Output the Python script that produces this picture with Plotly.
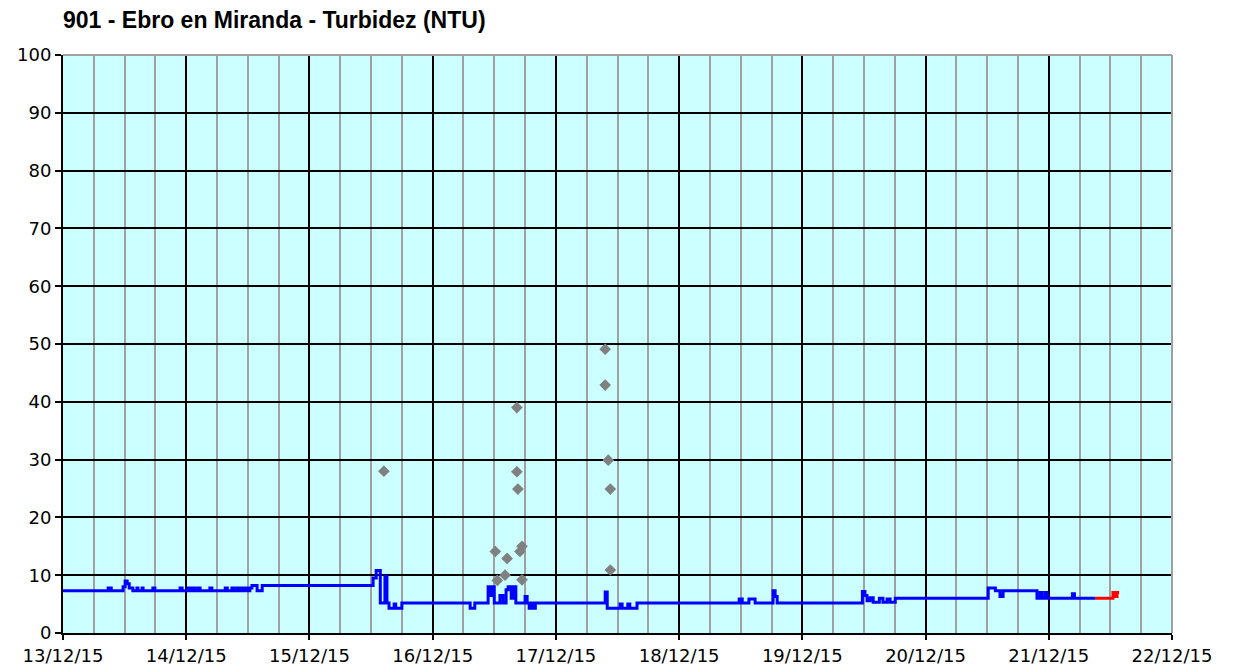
import pandas as pd
import plotly.graph_objects as go

START = pd.Timestamp("2015-12-13 00:00")

# blue series: hours since 13/12/15 00:00 and turbidity (NTU), step changes
blue_hours = [0, 8.8, 9.4, 11.7, 12.1, 12.5, 12.9, 13.1, 13.6, 14.4, 14.6, 15.4, 15.6,
              17.5, 17.9, 22.8, 23.2, 24.4, 24.8, 25.3, 25.7, 26.3, 26.7, 28.6, 29.0,
              31.6, 32.0, 32.9, 33.3, 33.9, 34.2, 34.5, 34.8, 35.1, 35.4, 35.8, 36.1,
              36.4, 36.8, 37.8, 38.8, 60.4, 61.0, 61.8, 62.7, 63.1, 63.5, 64.5, 64.8,
              66.0, 79.3, 80.2, 82.8, 83.2, 83.6, 84.0, 85.1, 85.7, 86.3, 86.7, 87.3,
              87.7, 88.2, 90.0, 90.4, 90.8, 91.2, 91.6, 92.0, 105.6, 106.0, 108.5,
              108.9, 110.0, 110.4, 111.8, 131.7, 132.3, 133.6, 134.8, 138.3, 138.7,
              139.1, 155.7, 156.2, 156.6, 157.2, 157.8, 159.0, 159.7, 160.5, 161.1,
              162.1, 180.2, 181.6, 182.5, 183.1, 189.7, 190.3, 190.7, 191.3, 191.7,
              196.6, 197.0, 201.0]
blue_vals = [7.3, 7.8, 7.3, 8.0, 9.0, 8.5, 7.8, 7.8, 7.3, 7.8, 7.3, 7.8, 7.3,
             7.8, 7.3, 7.8, 7.3, 7.8, 7.3, 7.8, 7.3, 7.8, 7.3, 7.8, 7.3,
             7.8, 7.3, 7.8, 7.3, 7.8, 7.3, 7.8, 7.3, 7.8, 7.3, 7.8, 7.3,
             7.8, 8.2, 7.3, 8.2, 9.5, 10.8, 5.2, 9.8, 5.2, 4.3, 5.0, 4.3,
             5.2, 4.3, 5.2, 8.0, 6.5, 8.0, 5.2, 6.5, 5.2, 7.5, 8.0, 6.0,
             8.0, 5.2, 6.3, 5.2, 4.3, 5.2, 4.3, 5.2, 7.1, 4.3, 5.0,
             4.3, 5.0, 4.3, 5.2, 5.9, 5.2, 5.9, 5.2, 7.3, 6.3,
             5.2, 7.2, 6.5, 5.6, 6.1, 5.3, 6.0, 5.3, 5.9, 5.3,
             6.0, 7.8, 7.3, 6.3, 7.3, 6.0, 7.0, 6.0, 7.0, 6.0,
             6.8, 6.0, 6.0]

# red series (latest readings)
red_hours = [201.0, 204.5, 204.9, 205.3, 205.7]
red_vals = [6.0, 7.0, 6.3, 7.0, 7.0]

# grey diamonds (discarded samples)
dot_hours = [62.5, 84.2, 84.6, 86.1, 86.5, 88.4, 88.4, 88.6, 89.0, 89.4, 89.4,
             105.6, 105.6, 106.2, 106.6, 106.6]
dot_vals = [28.0, 14.1, 9.1, 10.0, 12.9, 39.0, 27.9, 24.9, 14.1, 15.0, 9.2,
            49.1, 42.9, 29.9, 24.9, 10.9]


def to_time(hours):
    return START + pd.to_timedelta(hours, unit="h")


fig = go.Figure()

fig.add_trace(go.Scatter(
    x=to_time(dot_hours), y=dot_vals, mode="markers",
    marker=dict(symbol="diamond", size=9, color="#808080"),
    showlegend=False
))
fig.add_trace(go.Scatter(
    x=to_time(blue_hours), y=blue_vals, mode="lines",
    line=dict(color="#0000FF", width=3, shape="hv"),
    showlegend=False
))
fig.add_trace(go.Scatter(
    x=to_time(red_hours), y=red_vals, mode="lines",
    line=dict(color="#FF0000", width=3, shape="hv"),
    showlegend=False
))

# grey frame on the top and right edges of the plot area
fig.add_shape(type="line", xref="paper", yref="paper", x0=0, x1=1, y0=1, y1=1,
              line=dict(color="#A0A0A0", width=2))
fig.add_shape(type="line", xref="paper", yref="paper", x0=1, x1=1, y0=0, y1=1,
              line=dict(color="#A0A0A0", width=2))

tick_font = dict(family="DejaVu Sans", size=18, color="#000000")

# page body has an 8px margin, so the figure is a bit smaller than the window
W, H = 1225, 664

fig.update_layout(
    width=W, height=H,
    margin=dict(l=55, r=61, t=47, b=39),
    paper_bgcolor="white",
    plot_bgcolor="#CCFFFF",
    title=dict(
        text="<b>901 - Ebro en Miranda - Turbidez (NTU)</b>",
        x=55 / W, xanchor="left", y=1 - 12 / H, yanchor="middle",
        font=dict(family="Liberation Sans", size=23, color="#000000")
    ),
    xaxis=dict(
        type="date", automargin=False,
        range=["2015-12-13", "2015-12-22"],
        tick0="2015-12-13", dtick=86400000,
        tickformat="%d/%m/%y",
        showgrid=True, gridcolor="#000000", gridwidth=1.5,
        minor=dict(dtick=6 * 3600000, showgrid=True, gridcolor="#A0A0A0", gridwidth=2),
        showline=True, linecolor="#000000", linewidth=2,
        ticks="outside", ticklen=5, tickcolor="#000000", tickwidth=2,
        tickfont=tick_font, zeroline=False
    ),
    yaxis=dict(
        range=[0, 100], dtick=10, automargin=False,
        showgrid=True, gridcolor="#000000", gridwidth=1.5,
        showline=True, linecolor="#000000", linewidth=2,
        ticks="outside", ticklen=6, tickcolor="#000000", tickwidth=2,
        tickfont=tick_font, zeroline=False
    ),
)

fig.write_html("out.html")
